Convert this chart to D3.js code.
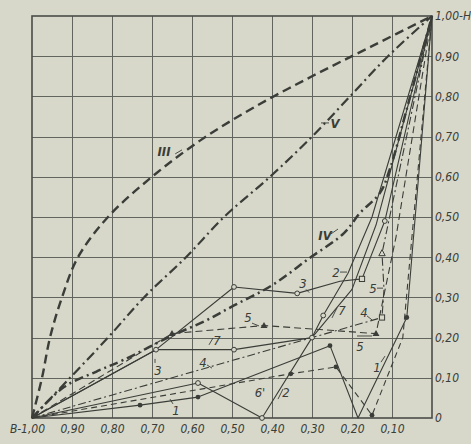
<!DOCTYPE html>
<html><head><meta charset="utf-8">
<script src="https://cdn.jsdelivr.net/npm/d3@7"></script>
<style>
body{margin:0;background:#d7d8ca;}
svg{display:block}
text{font-family:"Liberation Sans Narrow","DejaVu Sans Condensed","Liberation Sans",sans-serif;font-style:italic;fill:#3a3d38;}
</style>
</head><body>
<svg id="c" width="471" height="444"></svg>
<script>
// ---- data ----
const xTicks = [1.0,0.9,0.8,0.7,0.6,0.5,0.4,0.3,0.2,0.1];
const xTickLabels = ["B-1,00","0,90","0,80","0,70","0,60","0,50","0,40","0,30","0,20","0,10"];
const yTicks = [0,0.1,0.2,0.3,0.4,0.5,0.6,0.7,0.8,0.9,1.0];
const yTickLabels = ["0","0,10","0,20","0,30","0,40","0,50","0,60","0,70","0,80","0,90","1,00-H"];

const curveIII = [[1,0],[0.975,0.1],[0.955,0.2],[0.925,0.3],[0.885,0.4],[0.81,0.5],[0.70,0.6],[0.58,0.69],[0.45,0.77],[0.30,0.85],[0.15,0.925],[0,1]];
const curveV   = [[1,0],[0.905,0.1],[0.81,0.2],[0.72,0.3],[0.615,0.4],[0.52,0.5],[0.405,0.6],[0.30,0.7],[0.205,0.8],[0.11,0.9],[0,1]];
const curveIV  = [[1,0],[0.92,0.077],[0.84,0.115],[0.77,0.145],[0.65,0.205],[0.57,0.24],[0.495,0.28],[0.40,0.33],[0.31,0.395],[0.22,0.46],[0.18,0.51],[0.13,0.56],[0.105,0.62],[0.06,0.78],[0,1]];

const s1  = [[1,0],[0.73,0.032],[0.585,0.052],[0.255,0.18],[0.185,0],[0.063,0.25],[0,1]];
const s1b = [[1,0],[0.353,0.11],[0.24,0.127],[0.15,0.007],[0.073,0.20],[0,1]];
const s2  = [[1,0],[0.585,0.087],[0.425,0],[0.30,0.20],[0.272,0.255],[0.21,0.36],[0.15,0.50],[0,1]];
const s3  = [[1,0],[0.69,0.17],[0.495,0.326],[0.337,0.31],[0.23,0.34],[0.175,0.346],[0.118,0.49],[0,1]];
const s7  = [[1,0],[0.69,0.17],[0.495,0.17],[0.30,0.20],[0.20,0.32],[0.14,0.48],[0,1]];
const s4  = [[1,0],[0.30,0.20],[0.125,0.25],[0.12,0.32],[0.125,0.41],[0,1]];
const s5  = [[1,0],[0.65,0.21],[0.42,0.23],[0.14,0.21],[0.09,0.45],[0,1]];

// markers: [x,y,type]
const markers = [
  [0.73,0.032,"fc"],[0.585,0.052,"fc"],[0.255,0.18,"fc"],[0.063,0.25,"fc"],
  [0.353,0.11,"fc"],[0.24,0.127,"fc"],[0.15,0.007,"fc"],
  [0.585,0.087,"oc"],[0.425,0,"oc"],[0.272,0.255,"oc"],
  [0.69,0.17,"oc"],[0.495,0.326,"oc"],[0.337,0.31,"oc"],[0.175,0.346,"os"],[0.118,0.49,"oc"],
  [0.495,0.17,"oc"],[0.30,0.20,"oc"],
  [0.125,0.25,"os"],[0.125,0.41,"ot"],
  [0.65,0.21,"ft"],[0.42,0.23,"ft"],[0.14,0.21,"ft"]
];

// annotation labels: text, x, y (data units), leader [x1,y1,x2,y2] in data units
const labels = [
  ["III",0.67,0.652,[0.642,0.657,0.625,0.667]],
  ["V",0.2425,0.721,[0.2775,0.734,0.2575,0.734]],
  ["IV",0.2675,0.443,[0.2525,0.458,0.235,0.470]],
  ["3",0.3225,0.323,[0.315,0.320,0.307,0.312]],
  ["2",0.24,0.351,[0.23,0.363,0.2125,0.363]],
  ["5",0.1475,0.311,[0.1375,0.323,0.1225,0.323]],
  ["4",0.17,0.251,[0.1625,0.254,0.15,0.244]],
  ["5",0.18,0.167,[0.1875,0.204,0.15,0.204]],
  ["1",0.1375,0.114,[0.1275,0.139,0.1175,0.154]],
  ["5",0.46,0.239,[0.45,0.236,0.4325,0.229]],
  ["7",0.225,0.256,[0.25,0.249,0.2375,0.274]],
  ["6'",0.43,0.052,null],
  ["2",0.365,0.052,[0.385,0.047,0.3725,0.072]],
  ["7",0.5375,0.182,[0.5575,0.182,0.5475,0.199]],
  ["4",0.5725,0.127,[0.5625,0.132,0.55,0.124]],
  ["3",0.685,0.107,[0.6925,0.137,0.6925,0.147]],
  ["1",0.64,0.0075,[0.6475,0.035,0.655,0.047]]
];

// ---- drawing ----
const W=471,H=444;
const x = d3.scaleLinear().domain([1,0]).range([32,432]);
const y = d3.scaleLinear().domain([0,1]).range([418,16]);
const svg = d3.select("#c");
const ink = "#3a3d38";

svg.append("rect").attr("width",W).attr("height",H).attr("fill","#d7d8ca");

// grid
const g = svg.append("g").attr("stroke","#62655e").attr("stroke-width",1);
[0.1,0.2,0.3,0.4,0.5,0.6,0.7,0.8,0.9].forEach(v=>{
  g.append("line").attr("x1",Math.round(x(v))+0.5).attr("x2",Math.round(x(v))+0.5).attr("y1",y(0)).attr("y2",y(1));
  g.append("line").attr("y1",Math.round(y(v))+0.5).attr("y2",Math.round(y(v))+0.5).attr("x1",x(1)).attr("x2",x(0));
});
svg.append("rect").attr("x",x(1)).attr("y",y(1)).attr("width",x(0)-x(1)).attr("height",y(0)-y(1))
  .attr("fill","none").attr("stroke","#4a4d47").attr("stroke-width",1.6);

// axes
const xa = svg.append("g").attr("transform",`translate(0,${y(0)})`)
  .call(d3.axisBottom(x).tickValues(xTicks).tickSize(0).tickPadding(6).tickFormat((d,i)=>xTickLabels[i]));
xa.select(".domain").remove();
xa.selectAll("text").attr("font-size",12).style("font-family",null).attr("font-family",null);
xa.selectAll("text").filter((d,i)=>i===0).attr("dx",-5);

const ya = svg.append("g").attr("transform",`translate(${x(0)},0)`)
  .call(d3.axisRight(y).tickValues(yTicks).tickSize(0).tickPadding(3).tickFormat((d,i)=>yTickLabels[i]));
ya.select(".domain").remove();
ya.selectAll("text").attr("font-size",12).attr("font-family",null);
svg.selectAll(".tick text").attr("fill",ink);

const lineSmooth = d3.line().x(d=>x(d[0])).y(d=>y(d[1])).curve(d3.curveCatmullRom.alpha(0.5));
const lineStr = d3.line().x(d=>x(d[0])).y(d=>y(d[1]));

function draw(data,gen,w,dash){
  svg.append("path").attr("d",gen(data)).attr("fill","none").attr("stroke",ink)
    .attr("stroke-width",w).attr("stroke-dasharray",dash||null).attr("stroke-linejoin","round");
}
// thin series
draw(s1,lineStr,1.1,null);
draw(s1b,lineStr,1.1,"6,4");
draw(s2,lineStr,1.1,null);
draw(s3,lineStr,1.1,null);
draw(s7,lineStr,1.1,null);
draw(s4,lineStr,1.1,"8,3,2,3");
draw(s5,lineStr,1.1,"7,4");
// heavy curves
draw(curveIII,lineSmooth,2.4,"9,5");
draw(curveV,lineSmooth,2.2,"10,4,2,4");
draw(curveIV,lineSmooth,2.5,"9,4,2,4");

// markers
const bg="#d7d8ca";
markers.forEach(([mx,my,t])=>{
  const px=x(mx),py=y(my);
  if(t==="fc") svg.append("circle").attr("cx",px).attr("cy",py).attr("r",2.4).attr("fill",ink);
  if(t==="oc") svg.append("circle").attr("cx",px).attr("cy",py).attr("r",2.4).attr("fill",bg).attr("stroke",ink).attr("stroke-width",1);
  if(t==="os") svg.append("rect").attr("x",px-2.6).attr("y",py-2.6).attr("width",5.2).attr("height",5.2).attr("fill",bg).attr("stroke",ink).attr("stroke-width",1);
  if(t==="ft") svg.append("path").attr("d",`M${px},${py-3.5}L${px+3.5},${py+2.5}L${px-3.5},${py+2.5}Z`).attr("fill",ink);
  if(t==="ot") svg.append("path").attr("d",`M${px},${py-3.5}L${px+3.2},${py+2.5}L${px-3.2},${py+2.5}Z`).attr("fill",bg).attr("stroke",ink).attr("stroke-width",1);
});

// labels
labels.forEach(([t,lx,ly,ld])=>{
  svg.append("text").attr("x",x(lx)).attr("y",y(ly)).attr("text-anchor","middle")
    .attr("font-size",13).attr("font-weight",t.indexOf("I")>=0||t==="V"?"bold":"normal").text(t);
  if(ld) svg.append("line").attr("x1",x(ld[0])).attr("y1",y(ld[1])).attr("x2",x(ld[2])).attr("y2",y(ld[3]))
    .attr("stroke",ink).attr("stroke-width",0.9);
});
</script>
</body></html>
